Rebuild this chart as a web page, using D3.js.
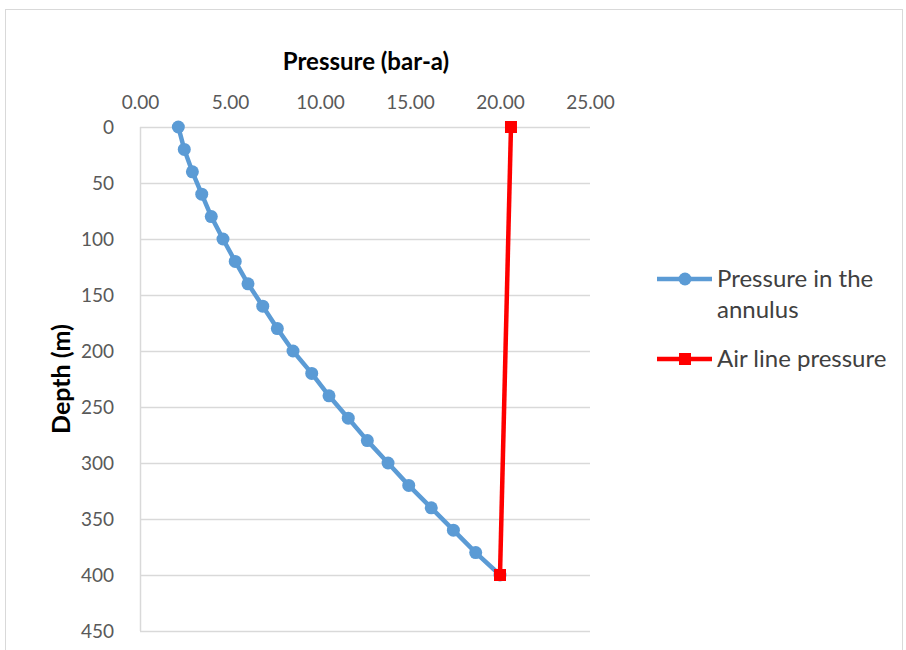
<!DOCTYPE html>
<html><head><meta charset="utf-8">
<script src="https://cdn.jsdelivr.net/npm/d3@7"></script>
<style>body{margin:0;background:#fff;} svg{display:block;font-family:Lato,"Open Sans",sans-serif;}</style>
</head><body>
<svg id="c" width="906" height="650"></svg>
<script>
const depths = [0,20,40,60,80,100,120,140,160,180,200,220,240,260,280,300,320,340,360,380,400];
const annulusPressure = [2.13,2.46,2.91,3.43,3.96,4.61,5.29,6.0,6.82,7.63,8.5,9.54,10.5,11.57,12.63,13.78,14.93,16.18,17.41,18.65,20.0];
const airDepths = [0,400];
const airPressure = [20.61,20.0];
const xTicks = [0,5,10,15,20,25];
const yTicks = [0,50,100,150,200,250,300,350,400,450];
const seriesNames = ["Pressure in the annulus","Air line pressure"];

const svg = d3.select("#c");
svg.append("rect").attr("x",5.5).attr("y",9.5).attr("width",897).attr("height",650).attr("fill","#fff").attr("stroke","#d9d9d9");

const x = d3.scaleLinear().domain([0,25]).range([140,590]);
const y = d3.scaleLinear().domain([0,450]).range([127,631]);

// gridlines
svg.append("g").selectAll("line").data(yTicks).join("line")
  .attr("x1",x(0)).attr("x2",x(25)).attr("y1",d=>y(d)+0.5).attr("y2",d=>y(d)+0.5)
  .attr("stroke","#d9d9d9").attr("stroke-width",1.5);
svg.append("line").attr("x1",x(0)+0.5).attr("x2",x(0)+0.5).attr("y1",y(0)).attr("y2",y(450))
  .attr("stroke","#d9d9d9").attr("stroke-width",1.5);

const xAxis = svg.append("g").attr("transform",`translate(0,${y(0)-15})`)
  .call(d3.axisTop(x).tickValues(xTicks).tickFormat(d3.format(".2f")).tickSize(0));
xAxis.select(".domain").remove();
xAxis.selectAll("text").attr("fill","#595959").attr("font-size",19).attr("font-family","Lato,sans-serif");

const yAxis = svg.append("g").attr("transform",`translate(${x(0)-23},0)`)
  .call(d3.axisLeft(y).tickValues(yTicks).tickSize(0));
yAxis.select(".domain").remove();
yAxis.selectAll("text").attr("fill","#595959").attr("font-size",19).attr("font-family","Lato,sans-serif").attr("dy","0.35em");

svg.append("text").attr("x",366).attr("y",70).attr("text-anchor","middle")
  .attr("font-weight","bold").attr("font-size",24).attr("fill","#000").text("Pressure (bar-a)");
svg.append("text").attr("transform",`translate(70,${(y(0)+y(450))/2}) rotate(-90)`).attr("text-anchor","middle")
  .attr("font-weight","bold").attr("font-size",25).attr("fill","#000").text("Depth (m)");

const blue = "#5B9BD5", red = "#FF0000";
const line = d3.line().x(d=>x(d[0])).y(d=>y(d[1]));
const bData = annulusPressure.map((p,i)=>[p,depths[i]]);
const rData = airPressure.map((p,i)=>[p,airDepths[i]]);

svg.append("path").datum(bData).attr("d",line).attr("fill","none").attr("stroke",blue).attr("stroke-width",4.5).attr("stroke-linejoin","round");
svg.append("g").selectAll("circle").data(bData).join("circle")
  .attr("cx",d=>x(d[0])).attr("cy",d=>y(d[1])).attr("r",6.5).attr("fill",blue);

svg.append("path").datum(rData).attr("d",line).attr("fill","none").attr("stroke",red).attr("stroke-width",4.5);
svg.append("g").selectAll("rect").data(rData).join("rect")
  .attr("x",d=>x(d[0])-6).attr("y",d=>y(d[1])-6).attr("width",12).attr("height",12).attr("fill",red);

// legend
const lg = svg.append("g");
lg.append("line").attr("x1",657).attr("x2",712).attr("y1",279).attr("y2",279).attr("stroke",blue).attr("stroke-width",4.5);
lg.append("circle").attr("cx",685).attr("cy",279).attr("r",6.5).attr("fill",blue);
const t1 = lg.append("text").attr("x",717).attr("y",287).attr("font-size",24).attr("fill","#404040");
t1.append("tspan").attr("x",717).text("Pressure in the");
t1.append("tspan").attr("x",717).attr("dy",31).text("annulus");
lg.append("line").attr("x1",657).attr("x2",712).attr("y1",359).attr("y2",359).attr("stroke",red).attr("stroke-width",4.5);
lg.append("rect").attr("x",679).attr("y",353).attr("width",12).attr("height",12).attr("fill",red);
lg.append("text").attr("x",717).attr("y",367).attr("font-size",24).attr("fill","#404040").text(seriesNames[1]);
</script>
</body></html>
